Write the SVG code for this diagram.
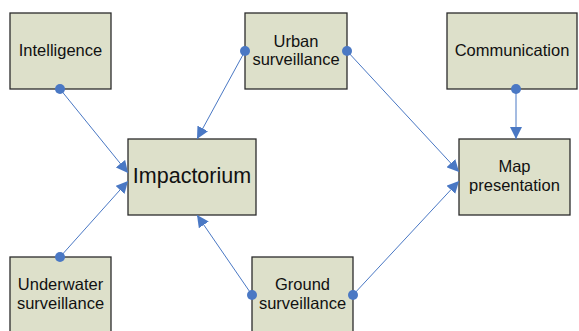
<svg xmlns="http://www.w3.org/2000/svg" width="579" height="331" viewBox="0 0 579 331">
<style>
.box{fill:#dde0ca;stroke:#2b2b2b;stroke-width:1.3}
.t{font-family:"Liberation Sans",Arial,sans-serif;font-size:16.5px;fill:#111;text-anchor:middle}
.big{font-size:21.5px}
.c{stroke:#4a78c4;stroke-width:1;fill:none;marker-end:url(#ah)}
.dot{fill:#4a78c4}
</style>
<defs>
<marker id="ah" viewBox="0 0 10 10" refX="10" refY="5" markerWidth="12" markerHeight="12" markerUnits="userSpaceOnUse" orient="auto">
<path d="M0,0 L10,5 L0,10 z" fill="#4a78c4"/>
</marker>
</defs>
<rect width="579" height="331" fill="#fff"/>
<g id="intelligence"><rect class="box" x="10" y="13" width="101" height="76"/><text class="t" x="60.5" y="56">Intelligence</text></g>
<g id="urban"><rect class="box" x="245" y="13" width="102" height="76"/><text class="t" x="296" y="47">Urban</text><text class="t" x="296" y="65">surveillance</text></g>
<g id="communication"><rect class="box" x="447" y="13" width="130" height="76"/><text class="t" x="512" y="56">Communication</text></g>
<g id="impactorium"><rect class="box" x="128" y="139" width="128" height="76"/><text class="t big" x="192" y="183">Impactorium</text></g>
<g id="map"><rect class="box" x="459" y="139" width="111" height="76"/><text class="t" x="514.5" y="172">Map</text><text class="t" x="514.5" y="191">presentation</text></g>
<g id="underwater"><rect class="box" x="10" y="257" width="101" height="80"/><text class="t" x="60.5" y="290">Underwater</text><text class="t" x="60.5" y="309">surveillance</text></g>
<g id="ground"><rect class="box" x="252" y="257" width="101" height="80"/><text class="t" x="302.5" y="290">Ground</text><text class="t" x="302.5" y="309">surveillance</text></g>
<g id="connectors">
<line class="c" x1="60" y1="89" x2="128" y2="173"/>
<line class="c" x1="60" y1="257" x2="128" y2="181"/>
<line class="c" x1="245" y1="51" x2="197" y2="139"/>
<line class="c" x1="252" y1="295" x2="197" y2="215"/>
<line class="c" x1="347" y1="51" x2="459" y2="172"/>
<line class="c" x1="353" y1="295" x2="459" y2="181"/>
<line class="c" x1="516" y1="89" x2="516" y2="139"/>
<circle class="dot" cx="60" cy="89" r="5"/>
<circle class="dot" cx="60" cy="257" r="5"/>
<circle class="dot" cx="245" cy="51" r="5"/>
<circle class="dot" cx="347" cy="51" r="5"/>
<circle class="dot" cx="252" cy="295" r="5"/>
<circle class="dot" cx="353" cy="295" r="5"/>
<circle class="dot" cx="516" cy="89" r="5"/>
</g>
</svg>
